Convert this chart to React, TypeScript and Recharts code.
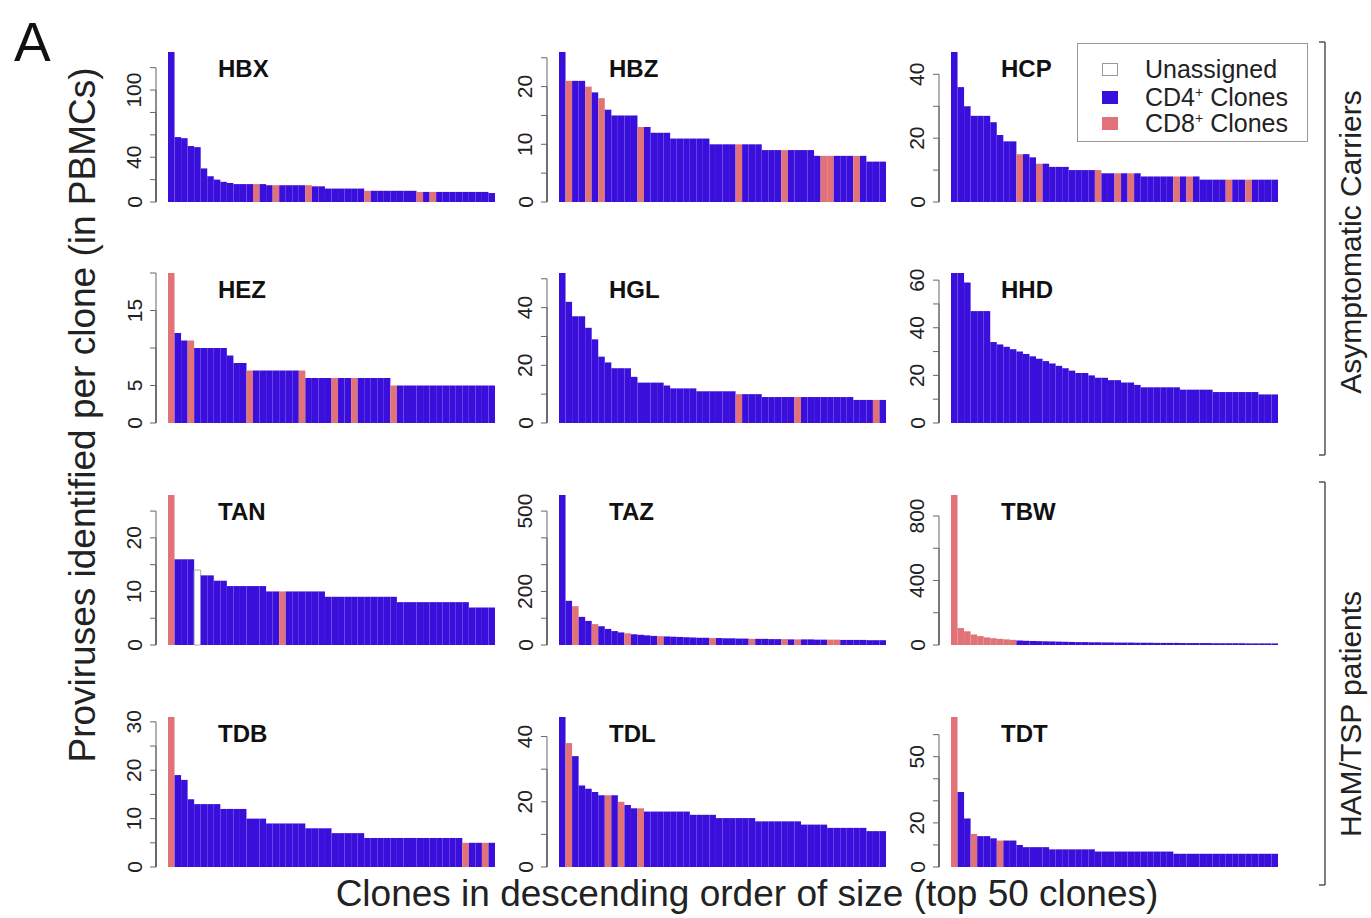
import React from "react";
import { BarChart, Bar, XAxis, YAxis, Cell } from "recharts";

// proviruses per clone, top 50 clones per subject
const HBX = [134, 58, 57, 50, 49, 30, 23, 20, 18, 17, 16, 16, 16, 16, 16, 15, 15, 15, 15, 15, 15, 15, 14, 14, 12, 12, 12, 12, 12, 12, 10, 10, 10, 10, 10, 10, 10, 10, 9, 9, 9, 9, 9, 9, 9, 9, 9, 9, 9, 8];
const HBZ = [26, 21, 21, 21, 20, 19, 18, 16, 15, 15, 15, 15, 13, 13, 12, 12, 12, 11, 11, 11, 11, 11, 11, 10, 10, 10, 10, 10, 10, 10, 10, 9, 9, 9, 9, 9, 9, 9, 9, 8, 8, 8, 8, 8, 8, 8, 8, 7, 7, 7];
const HCP = [47, 36, 30, 27, 27, 27, 25, 21, 19, 19, 15, 15, 14, 12, 12, 11, 11, 11, 10, 10, 10, 10, 10, 9, 9, 9, 9, 9, 9, 8, 8, 8, 8, 8, 8, 8, 8, 8, 7, 7, 7, 7, 7, 7, 7, 7, 7, 7, 7, 7];
const HEZ = [20, 12, 11, 11, 10, 10, 10, 10, 10, 9, 8, 8, 7, 7, 7, 7, 7, 7, 7, 7, 7, 6, 6, 6, 6, 6, 6, 6, 6, 6, 6, 6, 6, 6, 5, 5, 5, 5, 5, 5, 5, 5, 5, 5, 5, 5, 5, 5, 5, 5];
const HGL = [52, 42, 37, 37, 33, 29, 23, 21, 19, 19, 19, 16, 14, 14, 14, 14, 13, 12, 12, 12, 12, 11, 11, 11, 11, 11, 11, 10, 10, 10, 10, 9, 9, 9, 9, 9, 9, 9, 9, 9, 9, 9, 9, 9, 9, 8, 8, 8, 8, 8];
const HHD = [63, 63, 59, 47, 47, 47, 34, 33, 32, 31, 30, 29, 28, 27, 26, 25, 24, 23, 22, 21, 21, 20, 19, 19, 18, 18, 17, 17, 16, 15, 15, 15, 15, 15, 15, 14, 14, 14, 14, 14, 13, 13, 13, 13, 13, 13, 13, 12, 12, 12];
const TAN = [28, 16, 16, 16, 14, 13, 13, 12, 12, 11, 11, 11, 11, 11, 11, 10, 10, 10, 10, 10, 10, 10, 10, 10, 9, 9, 9, 9, 9, 9, 9, 9, 9, 9, 9, 8, 8, 8, 8, 8, 8, 8, 8, 8, 8, 8, 7, 7, 7, 7];
const TAZ = [560, 165, 145, 105, 90, 78, 70, 60, 52, 47, 44, 40, 38, 36, 34, 33, 32, 31, 30, 29, 28, 27, 27, 26, 26, 25, 25, 24, 24, 23, 23, 23, 22, 22, 22, 21, 21, 21, 21, 20, 20, 20, 20, 19, 19, 19, 19, 18, 18, 18];
const TBW = [930, 105, 85, 65, 55, 47, 42, 38, 35, 32, 28, 26, 25, 24, 23, 22, 21, 20, 19, 18, 18, 17, 17, 16, 16, 15, 15, 15, 14, 14, 14, 13, 13, 13, 13, 12, 12, 12, 12, 12, 11, 11, 11, 11, 11, 10, 10, 10, 10, 10];
const TDB = [31, 19, 18, 14, 13, 13, 13, 13, 12, 12, 12, 12, 10, 10, 10, 9, 9, 9, 9, 9, 9, 8, 8, 8, 8, 7, 7, 7, 7, 7, 6, 6, 6, 6, 6, 6, 6, 6, 6, 6, 6, 6, 6, 6, 6, 5, 5, 5, 5, 5];
const TDL = [46, 38, 34, 25, 24, 23, 22, 22, 22, 20, 19, 18, 18, 17, 17, 17, 17, 17, 17, 17, 16, 16, 16, 16, 15, 15, 15, 15, 15, 15, 14, 14, 14, 14, 14, 14, 14, 13, 13, 13, 13, 12, 12, 12, 12, 12, 12, 11, 11, 11];
const TDT = [68, 34, 22, 15, 14, 14, 13, 12, 12, 12, 10, 9, 9, 9, 9, 8, 8, 8, 8, 8, 8, 8, 7, 7, 7, 7, 7, 7, 7, 7, 7, 7, 7, 7, 6, 6, 6, 6, 6, 6, 6, 6, 6, 6, 6, 6, 6, 6, 6, 6];

// 1-based positions of CD8+ clones (others are CD4+)
const HBX_CD8 = [14, 17, 22, 31, 39, 41];
const HBZ_CD8 = [2, 5, 7, 13, 28, 35, 41, 42, 46];
const HCP_CD8 = [11, 14, 23, 26, 28, 35, 37, 43, 46];
const HEZ_CD8 = [1, 4, 13, 21, 26, 29, 35];
const HGL_CD8 = [28, 37, 49];
const HHD_CD8: number[] = [];
const TAN_CD8 = [1, 18];
const TAZ_CD8 = [3, 6, 11, 16, 24, 30, 35, 37, 42, 43];
const TBW_CD8 = [1, 2, 3, 4, 5, 6, 7, 8, 9, 10];
const TDB_CD8 = [1, 46, 49];
const TDL_CD8 = [2, 8, 10, 13];
const TDT_CD8 = [1, 4, 8];
const TAN_UNASSIGNED = [5];

// axis ticks, and which of them carry a label
const HBX_TICKS = [0, 20, 40, 60, 80, 100, 120];
const HBX_LABELS = [0, 40, 100];
const HBZ_TICKS = [0, 5, 10, 15, 20, 25];
const HBZ_LABELS = [0, 10, 20];
const HCP_TICKS = [0, 10, 20, 30, 40];
const HCP_LABELS = [0, 20, 40];
const HEZ_TICKS = [0, 5, 10, 15, 20];
const HEZ_LABELS = [0, 5, 15];
const HGL_TICKS = [0, 10, 20, 30, 40, 50];
const HGL_LABELS = [0, 20, 40];
const HHD_TICKS = [0, 10, 20, 30, 40, 50, 60];
const HHD_LABELS = [0, 20, 40, 60];
const TAN_TICKS = [0, 5, 10, 15, 20, 25];
const TAN_LABELS = [0, 10, 20];
const TAZ_TICKS = [0, 100, 200, 300, 400, 500];
const TAZ_LABELS = [0, 200, 500];
const TBW_TICKS = [0, 200, 400, 600, 800];
const TBW_LABELS = [0, 400, 800];
const TDB_TICKS = [0, 5, 10, 15, 20, 25, 30];
const TDB_LABELS = [0, 10, 20, 30];
const TDL_TICKS = [0, 10, 20, 30, 40];
const TDL_LABELS = [0, 20, 40];
const TDT_TICKS = [0, 10, 20, 30, 40, 50, 60];
const TDT_LABELS = [0, 20, 50];

type Panel = {
  name: string;
  values: number[];
  cd8: number[];
  unassigned?: number[];
  ticks: number[];
  labels: number[];
};

const PANELS: Panel[] = [
  { name: "HBX", values: HBX, cd8: HBX_CD8, ticks: HBX_TICKS, labels: HBX_LABELS },
  { name: "HBZ", values: HBZ, cd8: HBZ_CD8, ticks: HBZ_TICKS, labels: HBZ_LABELS },
  { name: "HCP", values: HCP, cd8: HCP_CD8, ticks: HCP_TICKS, labels: HCP_LABELS },
  { name: "HEZ", values: HEZ, cd8: HEZ_CD8, ticks: HEZ_TICKS, labels: HEZ_LABELS },
  { name: "HGL", values: HGL, cd8: HGL_CD8, ticks: HGL_TICKS, labels: HGL_LABELS },
  { name: "HHD", values: HHD, cd8: HHD_CD8, ticks: HHD_TICKS, labels: HHD_LABELS },
  { name: "TAN", values: TAN, cd8: TAN_CD8, unassigned: TAN_UNASSIGNED, ticks: TAN_TICKS, labels: TAN_LABELS },
  { name: "TAZ", values: TAZ, cd8: TAZ_CD8, ticks: TAZ_TICKS, labels: TAZ_LABELS },
  { name: "TBW", values: TBW, cd8: TBW_CD8, ticks: TBW_TICKS, labels: TBW_LABELS },
  { name: "TDB", values: TDB, cd8: TDB_CD8, ticks: TDB_TICKS, labels: TDB_LABELS },
  { name: "TDL", values: TDL, cd8: TDL_CD8, ticks: TDL_TICKS, labels: TDL_LABELS },
  { name: "TDT", values: TDT, cd8: TDT_CD8, ticks: TDT_TICKS, labels: TDT_LABELS },
];

const BLUE = "#3a0fdc";
const SALMON = "#e17378";
const FONT = '"Liberation Sans", Arial, Helvetica, sans-serif';

// layout
const AXIS_X = [156, 547, 939];
const BASE_Y = [202, 423, 645, 867];
const PLOT_H = 150;
const GAP = 12; // space between y axis and first bar
const BARS_W = 327;
const LEFT_W = 60;
const PAD = 10;

const AxisTick = (props: any) => {
  const { x, y, payload, max, labels } = props;
  const ax = x - GAP;
  const v = payload.value;
  const down = (v / max) * PLOT_H;
  const lx = ax - 22;
  return (
    <g>
      <line x1={ax} y1={y} x2={ax} y2={y + down} stroke="#666" strokeWidth={1} />
      <line x1={ax - 6} y1={y} x2={ax} y2={y} stroke="#666" strokeWidth={1} />
      {labels.includes(v) && (
        <text
          x={lx}
          y={y}
          transform={`rotate(-90 ${lx} ${y})`}
          textAnchor="middle"
          dominantBaseline="central"
          fontSize={21}
          fontFamily={FONT}
          fill="#222"
        >
          {v}
        </text>
      )}
    </g>
  );
};

const ClonePanel = ({ p, row, col }: { p: Panel; row: number; col: number }) => {
  const max = Math.max(...p.values);
  const data = p.values.map((v, k) => ({ clone: k + 1, size: v }));
  const barsLeft = AXIS_X[col] + GAP;
  const plotTop = BASE_Y[row] - PLOT_H;

  const fillFor = (n: number) => {
    if (p.unassigned?.includes(n)) return "#ffffff";
    return p.cd8.includes(n) ? SALMON : BLUE;
  };

  return (
    <>
      <div style={{ position: "absolute", left: barsLeft - LEFT_W, top: plotTop - PAD }}>
        <BarChart
          width={LEFT_W + BARS_W + 2}
          height={PLOT_H + PAD * 2}
          data={data}
          margin={{ top: PAD, right: 2, bottom: PAD, left: 0 }}
          barCategoryGap={0}
          barGap={0}
        >
          <XAxis dataKey="clone" hide />
          <YAxis
            type="number"
            domain={[0, "dataMax"]}
            ticks={p.ticks}
            interval={0}
            width={LEFT_W}
            tickSize={0}
            tickMargin={0}
            axisLine={false}
            tickLine={false}
            tick={<AxisTick max={max} labels={p.labels} />}
          />
          <Bar dataKey="size" barSize={BARS_W / 50 - 0.001} isAnimationActive={false}>
            {data.map((d) => (
              <Cell
                key={d.clone}
                fill={fillFor(d.clone)}
                stroke={p.unassigned?.includes(d.clone) ? "#aaa" : "none"}
              />
            ))}
          </Bar>
        </BarChart>
      </div>
      <div
        style={{
          position: "absolute",
          left: barsLeft + 50,
          top: plotTop + 17 - 12,
          fontFamily: FONT,
          fontWeight: "bold",
          fontSize: 24,
          lineHeight: "24px",
          color: "#111",
        }}
      >
        {p.name}
      </div>
    </>
  );
};

const rotated = (cx: number, cy: number, size: number): React.CSSProperties => ({
  position: "absolute",
  left: cx,
  top: cy,
  transform: "translate(-50%, -50%) rotate(-90deg)",
  whiteSpace: "nowrap",
  fontFamily: FONT,
  fontSize: size,
  lineHeight: 1,
  color: "#222",
});

const Plus = () => (
  <span style={{ position: "relative", top: -9, fontSize: 14, lineHeight: 0 }}>+</span>
);

const LegendRow = ({ top, fill, stroke, children }: { top: number; fill: string; stroke: string; children: React.ReactNode }) => (
  <div style={{ position: "absolute", left: 0, top, height: 24, width: "100%" }}>
    <div style={{ position: "absolute", left: 24, top: 6, width: 16, height: 13, background: fill, border: `1px solid ${stroke}`, boxSizing: "border-box" }} />
    <div style={{ position: "absolute", left: 67, top: 0, fontSize: 25, lineHeight: "24px", height: 24, whiteSpace: "nowrap" }}>{children}</div>
  </div>
);

const App = () => {
  return (
    <div style={{ position: "absolute", left: 0, top: 0, width: 1371, height: 918, background: "#fff", overflow: "hidden", fontFamily: FONT }}>
      <div style={{ position: "absolute", left: 14, top: 15, fontSize: 55, lineHeight: "55px", color: "#111" }}>A</div>

      {PANELS.map((p, k) => (
        <ClonePanel key={p.name} p={p} row={Math.floor(k / 3)} col={k % 3} />
      ))}

      <div style={rotated(82, 415, 37)}>Proviruses identified per clone (in PBMCs)</div>
      <div style={{ position: "absolute", left: 747, top: 893, transform: "translate(-50%, -50%)", whiteSpace: "nowrap", fontSize: 37, lineHeight: 1, color: "#222" }}>
        Clones in descending order of size (top 50 clones)
      </div>

      {/* group brackets on the right */}
      <svg style={{ position: "absolute", left: 0, top: 0 }} width={1371} height={918}>
        <g stroke="#555" strokeWidth={1.5} fill="none">
          <line x1={1325} y1={42} x2={1325} y2={455} />
          <line x1={1319} y1={42} x2={1325} y2={42} />
          <line x1={1319} y1={455} x2={1325} y2={455} />
          <line x1={1325} y1={482} x2={1325} y2={885} />
          <line x1={1319} y1={482} x2={1325} y2={482} />
          <line x1={1319} y1={885} x2={1325} y2={885} />
        </g>
      </svg>
      <div style={rotated(1351, 242, 30)}>Asymptomatic Carriers</div>
      <div style={rotated(1351, 714, 30)}>HAM/TSP patients</div>

      {/* legend */}
      <div style={{ position: "absolute", left: 1077, top: 43, width: 231, height: 99, border: "1px solid #999", background: "#fff", boxSizing: "border-box", color: "#222" }}>
        <LegendRow top={13} fill="#fff" stroke="#999">Unassigned</LegendRow>
        <LegendRow top={41} fill={BLUE} stroke={BLUE}>
          CD4<Plus /> Clones
        </LegendRow>
        <LegendRow top={67} fill={SALMON} stroke={SALMON}>
          CD8<Plus /> Clones
        </LegendRow>
      </div>
    </div>
  );
};

export default App;
